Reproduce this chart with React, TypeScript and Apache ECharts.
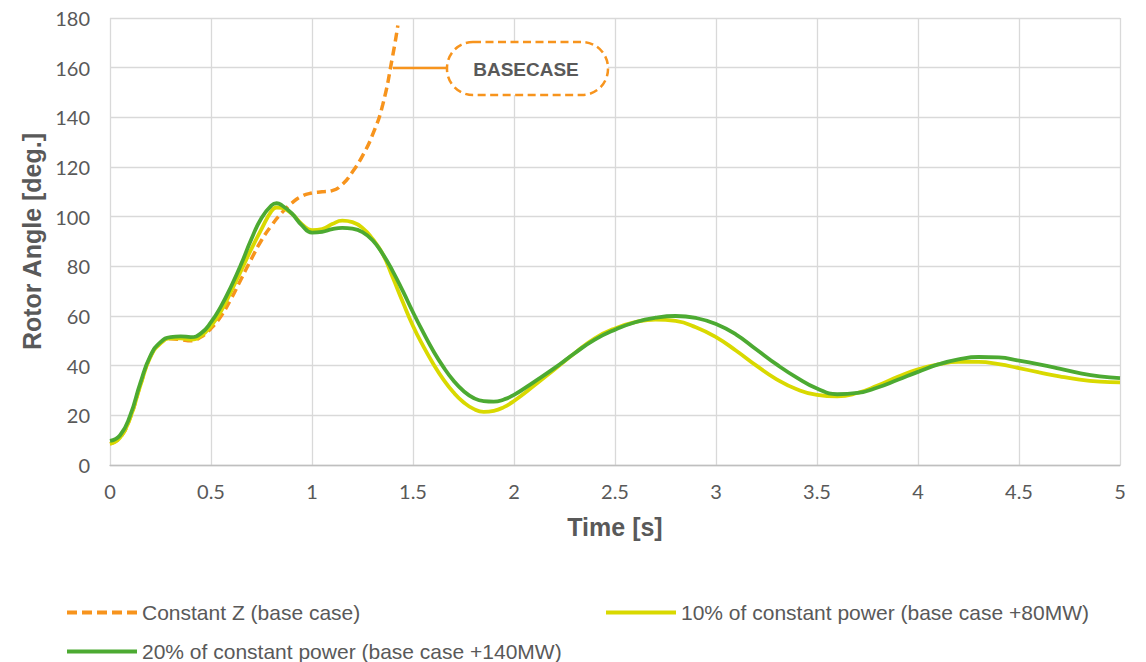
import React, { useEffect, useRef } from "react";
import * as echarts from "echarts";

// ---- data ----
const timeZ = [0, 0.05, 0.1, 0.15, 0.2, 0.25, 0.3, 0.35, 0.4, 0.45, 0.5, 0.55, 0.6, 0.65, 0.7, 0.75, 0.8, 0.85, 0.9, 0.95, 1.0, 1.05, 1.1, 1.15, 1.2, 1.25, 1.3, 1.35, 1.4, 1.425];
const constantZ = [8.5, 11, 19, 32, 43.5, 49, 50.8, 50.5, 50, 51.5, 55, 60, 67, 75, 83, 90.5, 96.5, 101.5, 105.5, 108.3, 109.5, 110, 110.5, 113, 118, 124.5, 133, 145, 165, 177];

const timeP = [0, 0.05, 0.1, 0.15, 0.2, 0.25, 0.3, 0.35, 0.4, 0.45, 0.5, 0.55, 0.6, 0.65, 0.7, 0.75, 0.8, 0.825, 0.85, 0.9, 0.95, 1.0, 1.05, 1.1, 1.15, 1.2, 1.25, 1.3, 1.35, 1.4, 1.45, 1.5, 1.55, 1.6, 1.65, 1.7, 1.75, 1.8, 1.85, 1.9, 1.95, 2.0, 2.1, 2.2, 2.3, 2.4, 2.5, 2.6, 2.7, 2.8, 2.9, 3.0, 3.1, 3.2, 3.3, 3.4, 3.5, 3.6, 3.7, 3.8, 3.9, 4.0, 4.1, 4.2, 4.3, 4.4, 4.5, 4.6, 4.7, 4.8, 4.9, 5.0];
const power10 = [8.5, 11, 19, 32, 43.5, 49, 51, 51, 50.5, 52, 56, 62, 70, 78.5, 87, 95, 102.3, 103.7, 103.5, 101.2, 97, 94.6, 95, 97, 98.4, 97.8, 95.5, 91, 85, 75.5, 65.5, 56, 48, 40.8, 34.5, 29.3, 25.3, 22.6, 21.4, 21.8, 23.3, 25.8, 32, 38.5, 45, 51, 55, 57.5, 58.6, 58, 55.5, 51.5, 46, 40, 34.5, 30.5, 28.2, 27.6, 29, 32, 35.5, 38.5, 40.5, 41.5, 41.5, 40.6, 39, 37.3, 35.7, 34.4, 33.6, 33.3];
const power20 = [9.7, 12, 20, 33, 44, 49.5, 51.5, 51.8, 51.5, 53, 57.5, 64, 72, 81, 91, 99.5, 104.6, 105.4, 104.6, 101.3, 96.5, 93.6, 93.9, 95, 95.5, 95.2, 93.8, 90.5, 85, 78, 70, 61.5, 53.5, 46, 39.5, 34, 29.8, 27, 25.7, 25.5, 26.4, 28.2, 33.5, 39, 45, 50.5, 54.5, 57.5, 59.3, 60, 59.2, 56.8, 52.5, 46.5, 40.5, 35.2, 30.8, 28.5, 29, 31.2, 34.3, 37.5, 40.5, 42.5, 43.5, 43.3, 42, 40.5, 38.8, 37, 35.7, 35];

const seriesNames = [
  "Constant Z (base case)",
  "10% of constant power (base case +80MW)",
  "20% of constant power (base case +140MW)",
];
const annotationText = "BASECASE";

const ORANGE = "#F7941D";
const YELLOW = "#D9D900";
const GREEN = "#4CAA32";
const TEXT = "#595959";

const DASH_ICON = "path://M0,0h10v4h-10z M15,0h10v4h-10z M30,0h10v4h-10z M45,0h10v4h-10z M60,0h10v4h-10z";

const zip = (xs: number[], ys: number[]) => xs.map((x, i) => [x, ys[i]]);

export default function App() {
  const ref = useRef<HTMLDivElement>(null);
  useEffect(() => {
    document.body.style.margin = "0";
    const chart = echarts.init(ref.current!, undefined, { renderer: "svg" });
    const legendText = { fontFamily: "Liberation Sans", fontSize: 21, color: TEXT };
    const legendBase = { itemWidth: 70, itemHeight: 4, textStyle: legendText, itemGap: 0 };
    chart.setOption({
      animation: false,
      backgroundColor: "#ffffff",
      grid: { left: 110, right: 26, top: 18, bottom: 197, containLabel: false },
      xAxis: {
        type: "value",
        min: 0,
        max: 5,
        interval: 0.5,
        name: "Time [s]",
        nameLocation: "middle",
        nameGap: 49,
        nameTextStyle: { fontFamily: "Liberation Sans", fontWeight: "bold", fontSize: 25, color: TEXT },
        axisLine: { show: true, lineStyle: { color: "#bfbfbf", width: 1.3 } },
        axisTick: { show: false },
        axisLabel: { margin: 16, fontFamily: "Lato", fontSize: 20, color: TEXT },
        splitLine: { show: true, lineStyle: { color: "#d9d9d9", width: 1.3 } },
      },
      yAxis: {
        type: "value",
        min: 0,
        max: 180,
        interval: 20,
        name: "Rotor Angle [deg.]",
        nameLocation: "middle",
        nameGap: 62,
        nameTextStyle: { fontFamily: "Liberation Sans", fontWeight: "bold", fontSize: 25, color: TEXT },
        axisLine: { show: false },
        axisTick: { show: false },
        axisLabel: { margin: 20, fontFamily: "Lato", fontSize: 20, color: TEXT },
        splitLine: { show: true, lineStyle: { color: "#d9d9d9", width: 1.3 } },
      },
      legend: [
        { ...legendBase, data: [{ name: seriesNames[0], icon: DASH_ICON }], left: 62, top: 597 },
        { ...legendBase, data: [{ name: seriesNames[1], icon: "rect" }], left: 601, top: 597 },
        { ...legendBase, data: [{ name: seriesNames[2], icon: "rect" }], left: 62, top: 636 },
      ],
      series: [
        {
          name: seriesNames[0],
          type: "line",
          data: zip(timeZ, constantZ),
          smooth: 0.5,
          symbol: "none",
          color: ORANGE,
          lineStyle: { color: ORANGE, width: 3.5, type: [9, 5] },
          z: 2,
        },
        {
          name: seriesNames[1],
          type: "line",
          data: zip(timeP, power10),
          smooth: 0.5,
          symbol: "none",
          color: YELLOW,
          lineStyle: { color: YELLOW, width: 3.8 },
          z: 3,
        },
        {
          name: seriesNames[2],
          type: "line",
          data: zip(timeP, power20),
          smooth: 0.5,
          symbol: "none",
          color: GREEN,
          lineStyle: { color: GREEN, width: 3.8 },
          z: 4,
        },
      ],
      graphic: [
        {
          type: "line",
          shape: { x1: 393, y1: 68, x2: 447, y2: 68 },
          style: { stroke: ORANGE, lineWidth: 2.5 },
          z: 10,
        },
        {
          type: "rect",
          shape: { x: 447, y: 42, width: 161, height: 53, r: 26 },
          style: { fill: "#ffffff", stroke: ORANGE, lineWidth: 2.5, lineDash: [8, 4.5] },
          z: 10,
        },
        {
          type: "text",
          x: 526,
          y: 69,
          style: {
            text: annotationText,
            fontFamily: "Liberation Sans",
            fontWeight: "bold",
            fontSize: 19,
            fill: TEXT,
            align: "center",
            verticalAlign: "middle",
          },
          z: 11,
        },
      ],
    });
    return () => chart.dispose();
  }, []);
  return <div ref={ref} style={{ width: 1146, height: 662 }} />;
}
